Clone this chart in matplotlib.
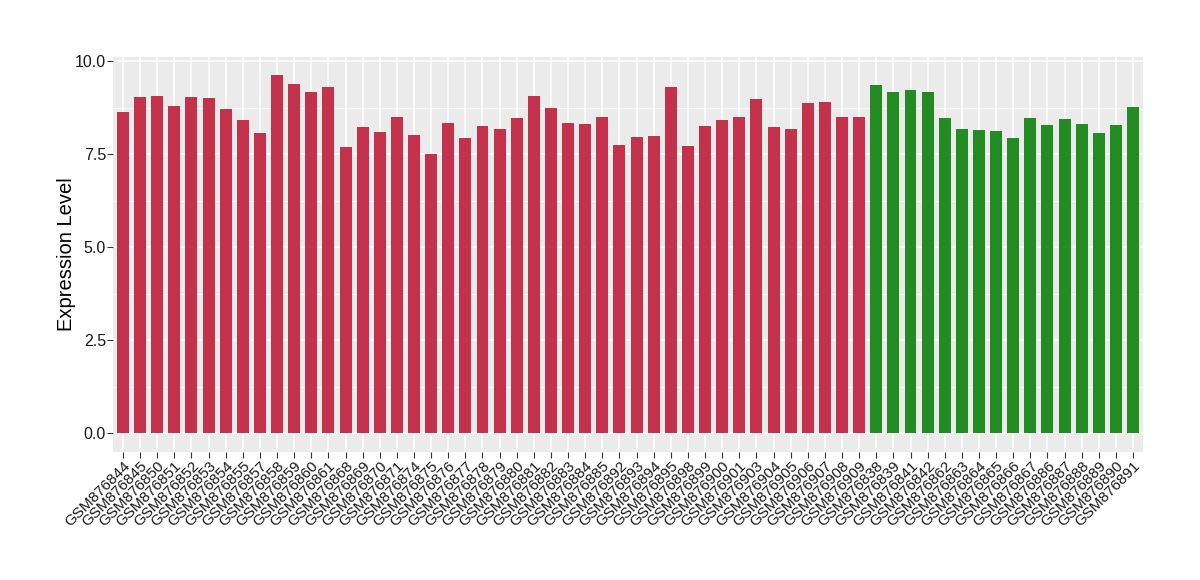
import numpy as np
import matplotlib
matplotlib.use("Agg")
import matplotlib.pyplot as plt

# --- data ---

red_samples = ['GSM876844', 'GSM876845', 'GSM876850', 'GSM876851', 'GSM876852',
               'GSM876853', 'GSM876854', 'GSM876855', 'GSM876857', 'GSM876858',
               'GSM876859', 'GSM876860', 'GSM876861', 'GSM876868', 'GSM876869',
               'GSM876870', 'GSM876871', 'GSM876874', 'GSM876875', 'GSM876876',
               'GSM876877', 'GSM876878', 'GSM876879', 'GSM876880', 'GSM876881',
               'GSM876882', 'GSM876883', 'GSM876884', 'GSM876885', 'GSM876892',
               'GSM876893', 'GSM876894', 'GSM876895', 'GSM876898', 'GSM876899',
               'GSM876900', 'GSM876901', 'GSM876903', 'GSM876904', 'GSM876905',
               'GSM876906', 'GSM876907', 'GSM876908', 'GSM876909']
red_values = [8.63, 9.03, 9.06, 8.79, 9.03, 9.00, 8.71, 8.41, 8.06, 9.62,
              9.38, 9.17, 9.30, 7.69, 8.23, 8.09, 8.49, 8.01, 7.50, 8.33,
              7.93, 8.25, 8.17, 8.47, 9.06, 8.74, 8.33, 8.31, 8.49, 7.74,
              7.96, 7.98, 9.30, 7.72, 8.25, 8.41, 8.49, 8.98, 8.23, 8.17,
              8.87, 8.90, 8.49, 8.49]

green_samples = ['GSM876838', 'GSM876839', 'GSM876841', 'GSM876842', 'GSM876862',
                 'GSM876863', 'GSM876864', 'GSM876865', 'GSM876866', 'GSM876867',
                 'GSM876886', 'GSM876887', 'GSM876888', 'GSM876889', 'GSM876890',
                 'GSM876891']
green_values = [9.35, 9.17, 9.22, 9.17, 8.47, 8.17, 8.15, 8.12, 7.93, 8.47,
                8.28, 8.44, 8.31, 8.06, 8.28, 8.76]

# --- plot ---

plt.rcParams['font.family'] = ['Liberation Sans', 'DejaVu Sans']

fig = plt.figure(figsize=(12, 5.8), dpi=100)
ax = fig.add_axes([0.0942, 0.2207, 0.8583, 0.681])

labels = red_samples + green_samples
x_red = np.arange(len(red_samples))
x_green = np.arange(len(red_samples), len(labels))

ax.bar(x_red, red_values, width=0.7, color='#C3314A', zorder=3)
ax.bar(x_green, green_values, width=0.7, color='#228B22', zorder=3)

ax.set_facecolor('#EBEBEB')
for s in ax.spines.values():
    s.set_visible(False)

ax.set_xlim(-0.58, len(labels) - 1 + 0.58)
ax.set_ylim(-0.51, 10.11)

ax.set_yticks([0, 2.5, 5.0, 7.5, 10.0])
ax.set_yticklabels(['0.0', '2.5', '5.0', '7.5', '10.0'])
ax.set_yticks([1.25, 3.75, 6.25, 8.75], minor=True)
ax.set_xticks(np.arange(len(labels)))
ax.set_xticklabels(labels, rotation=45, ha='right', rotation_mode='anchor')

ax.grid(which='major', color='white', linewidth=1.1, zorder=0)
ax.grid(which='minor', axis='y', color='white', linewidth=0.5, zorder=0)
ax.set_axisbelow(True)

ax.tick_params(axis='both', which='major', length=4, color='#333333',
               labelcolor='#1a1a1a')
ax.tick_params(axis='y', which='minor', length=0)
ax.tick_params(axis='x', pad=1, labelsize=11)
ax.tick_params(axis='y', pad=1, labelsize=11.5)

ax.set_ylabel('Expression Level', fontsize=14.5, labelpad=-1)

plt.savefig('out.png')
plt.close()
